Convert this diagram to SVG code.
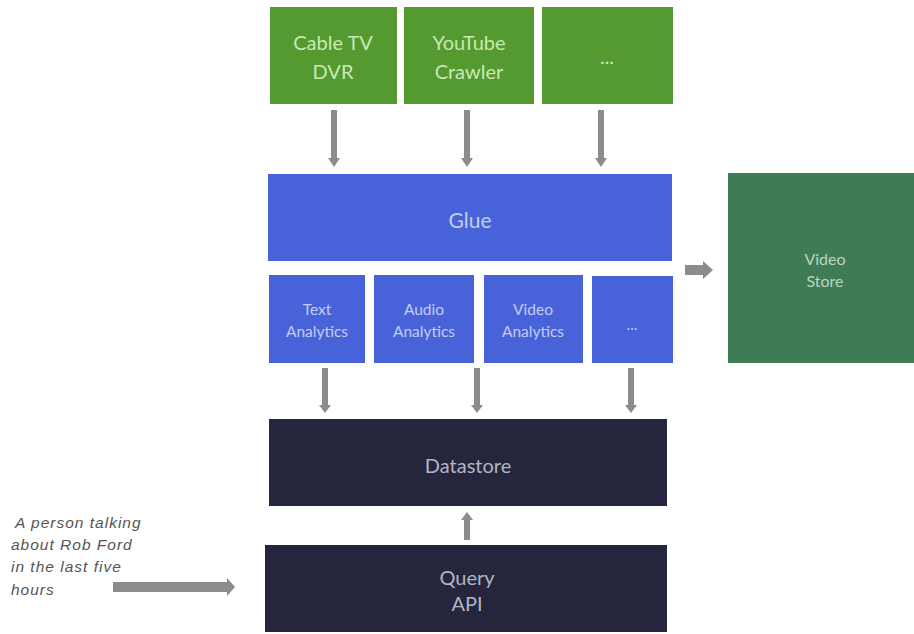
<svg xmlns="http://www.w3.org/2000/svg" width="914" height="634" viewBox="0 0 914 634">
<style>
.t{font-family:Lato,"Liberation Sans",sans-serif;text-anchor:middle}
.src rect{fill:#559a30}.src text{fill:#c9e8b4;font-size:20px}
.blue rect{fill:#4863d9}.blue text{fill:#c3cdf4}
.vs rect{fill:#3f7b55}.vs text{fill:#b9d6c5;font-size:16px}
.dark rect{fill:#25263d}.dark text{fill:#b3b4c4;font-size:20px}
.arr{fill:#8c8c8c}
.note{font-family:"Liberation Sans",Arial,sans-serif;font-style:italic;font-size:15.5px;letter-spacing:1px;fill:#555}
</style>
<rect width="914" height="634" fill="#fff"/>
<g id="cable" class="src t"><rect x="270" y="7" width="127" height="97"/><text x="333" y="50">Cable TV</text><text x="333" y="79">DVR</text></g>
<g id="youtube" class="src t"><rect x="404" y="7" width="130" height="97"/><text x="469" y="50">YouTube</text><text x="469" y="79">Crawler</text></g>
<g id="src-more" class="src t"><rect x="542" y="7" width="131" height="97"/><text x="607" y="64">...</text></g>
<g id="glue" class="blue t"><rect x="268" y="174" width="404" height="87"/><text x="470" y="228" font-size="21">Glue</text></g>
<g id="text-an" class="blue t"><rect x="269" y="275" width="96" height="88"/><text x="317" y="315" font-size="15.5">Text</text><text x="317" y="337" font-size="15.5">Analytics</text></g>
<g id="audio-an" class="blue t"><rect x="374" y="275" width="100" height="88"/><text x="424" y="315" font-size="15.5">Audio</text><text x="424" y="337" font-size="15.5">Analytics</text></g>
<g id="video-an" class="blue t"><rect x="484" y="275" width="99" height="88"/><text x="533" y="315" font-size="15.5">Video</text><text x="533" y="337" font-size="15.5">Analytics</text></g>
<g id="an-more" class="blue t"><rect x="592" y="276" width="81" height="87"/><text x="632" y="330" font-size="15.5">...</text></g>
<g id="videostore" class="vs t"><rect x="728" y="173" width="186" height="190"/><text x="825" y="265">Video</text><text x="825" y="287">Store</text></g>
<g id="datastore" class="dark t"><rect x="269" y="419" width="398" height="87"/><text x="468" y="473" font-size="21">Datastore</text></g>
<g id="query" class="dark t"><rect x="265" y="545" width="402" height="87"/><text x="467" y="585">Query</text><text x="467" y="611">API</text></g>
<g id="note"><text class="note" x="15" y="528">A person talking</text><text class="note" x="11" y="550">about Rob Ford</text><text class="note" x="11" y="572">in the last five</text><text class="note" x="11" y="595">hours</text></g>
<g id="connectors" class="arr">
<polygon points="331,110 337,110 337,158 340,158 334,167 328,158 331,158"/>
<polygon points="464,110 470,110 470,158 473,158 467,167 461,158 464,158"/>
<polygon points="598,110 604,110 604,158 607,158 601,167 595,158 598,158"/>
<polygon points="322,368 328,368 328,405 331,405 325,413 319,405 322,405"/>
<polygon points="474,368 480,368 480,405 483,405 477,413 471,405 474,405"/>
<polygon points="628,368 634,368 634,405 637,405 631,413 625,405 628,405"/>
<polygon points="464,540 470,540 470,520 473,520 467,512 461,520 464,520"/>
<polygon points="685,265 703,265 703,261 713,270 703,279 703,275 685,275"/>
<polygon points="113,582 227,582 227,578 235,587 227,596 227,592 113,592"/>
</g>
</svg>
